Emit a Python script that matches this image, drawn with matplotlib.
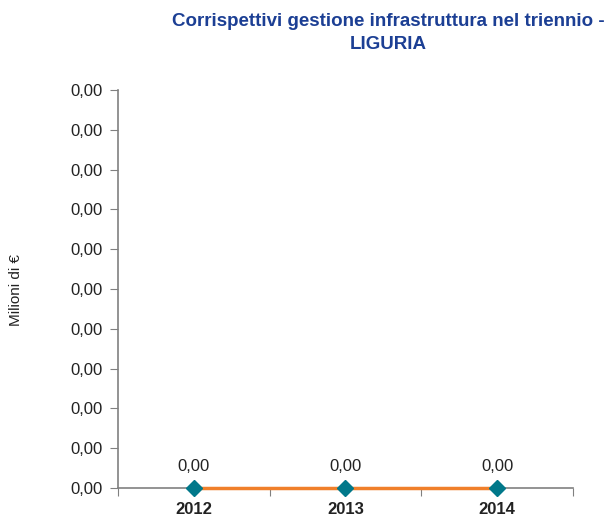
import matplotlib
matplotlib.use("Agg")
import matplotlib.pyplot as plt

plt.rcParams['font.family'] = ['Liberation Sans', 'DejaVu Sans']

# data
years = ['2012', '2013', '2014']
values = [0.0, 0.0, 0.0]
y_ticks = [i / 10 for i in range(11)]

def fmt(v):
    return '{:.2f}'.format(v).replace('.', ',')

fig = plt.figure(figsize=(6.14, 5.17), dpi=100)
ax = fig.add_axes([0.1922, 0.0561, 0.7410, 0.7698])

x = list(range(len(years)))
ax.plot(x, values, color='#F07F2A', linewidth=2.5, zorder=4, clip_on=False)
ax.plot(x, values, linestyle='none', marker='D', markersize=8,
        color='#00788A', zorder=5, clip_on=False)

for xi, v in zip(x, values):
    ax.annotate(fmt(v), (xi, v), xytext=(0, 10), textcoords='offset points',
                ha='center', va='bottom', fontsize=12, color='#222222')

ax.set_xlim(-0.5, len(years) - 0.5)
ax.set_ylim(0, 1)
ax.set_yticks(y_ticks)
ax.set_yticklabels([fmt(0.0) for _ in y_ticks], fontsize=12, color='#222222')

# category ticks sit between the categories
ax.set_xticks([i - 0.5 for i in range(len(years) + 1)])
ax.set_xticklabels([])
ax.set_xticks(x, minor=True)
ax.set_xticklabels(years, minor=True, fontsize=12, fontweight='bold', color='#222222')
ax.tick_params(axis='x', which='minor', length=0, pad=10)
ax.tick_params(axis='x', which='major', length=6, direction='out', color='#808080')
ax.tick_params(axis='y', length=6, direction='out', color='#808080', pad=5)

for s in ['top', 'right']:
    ax.spines[s].set_visible(False)
for s in ['left', 'bottom']:
    ax.spines[s].set_color('#808080')
    ax.spines[s].set_linewidth(1.2)

ax.set_ylabel('Milioni di €', fontsize=11, color='#222222')
ax.yaxis.set_label_coords(-0.208, 0.497)

fig.text(0.632, 0.975, 'Corrispettivi gestione infrastruttura nel triennio -\nLIGURIA',
         ha='center', va='top', fontsize=13.5, fontweight='bold', color='#1C3F94',
         linespacing=1.45)

fig.savefig('out.png', dpi=100)
